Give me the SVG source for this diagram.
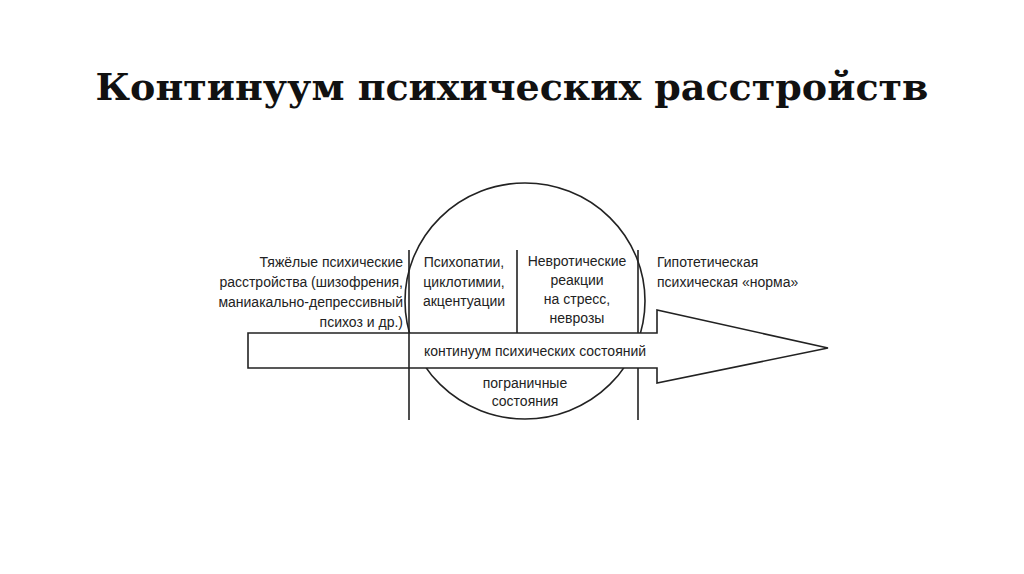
<svg xmlns="http://www.w3.org/2000/svg" width="1024" height="574" viewBox="0 0 1024 574">
<style>
.t{font-family:"Liberation Sans",Arial,sans-serif;font-size:14px;fill:#222}
.s{fill:none;stroke:#222;stroke-width:1.6}
</style>
<rect width="1024" height="574" fill="#fff"/>
<text x="512" y="100" text-anchor="middle" font-family="'DejaVu Serif',serif" font-weight="bold" font-size="38" fill="#111">Континуум психических расстройств</text>
<g id="circle"><ellipse class="s" cx="525" cy="301" rx="120" ry="118"/></g>
<g id="arrow"><polygon points="248,333 657,333 657,310 828,348 657,383 657,368 248,368" fill="#fff" stroke="#222" stroke-width="1.6"/>
<text class="t" x="535" y="356" text-anchor="middle">континуум психических состояний</text></g>
<g id="connectors">
<line class="s" x1="409" y1="250" x2="409" y2="420"/>
<line class="s" x1="517" y1="250" x2="517" y2="333"/>
<line class="s" x1="638" y1="250" x2="638" y2="333"/>
<line class="s" x1="638" y1="368" x2="638" y2="420"/>
</g>
<g id="left" class="t" text-anchor="end">
<text x="403" y="267">Тяжёлые психические</text>
<text x="403" y="287">расстройства (шизофрения,</text>
<text x="403" y="307">маниакально-депрессивный</text>
<text x="403" y="327">психоз и др.)</text></g>
<g id="psycho" class="t" text-anchor="middle">
<text x="464" y="267">Психопатии,</text>
<text x="464" y="287">циклотимии,</text>
<text x="464" y="306">акцентуации</text></g>
<g id="neuro" class="t" text-anchor="middle">
<text x="577" y="266">Невротические</text>
<text x="577" y="285">реакции</text>
<text x="577" y="304">на стресс,</text>
<text x="577" y="323">неврозы</text></g>
<g id="norm" class="t">
<text x="657" y="267">Гипотетическая</text>
<text x="657" y="287">психическая «норма»</text></g>
<g id="border" class="t" text-anchor="middle">
<text x="525" y="388">пограничные</text>
<text x="525" y="406">состояния</text></g>
</svg>
